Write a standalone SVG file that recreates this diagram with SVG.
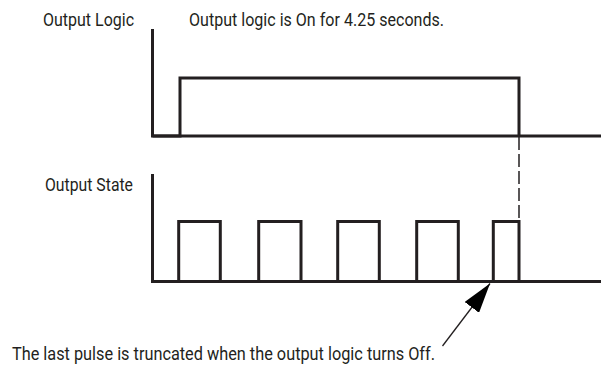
<svg xmlns="http://www.w3.org/2000/svg" width="601" height="365" viewBox="0 0 601 365">
<style>
text{font-family:Roboto,"Liberation Sans",sans-serif;font-size:19px;fill:#231f20}
.w{fill:none;stroke:#231f20;stroke-width:3;stroke-linejoin:miter}
.d{fill:none;stroke:#231f20;stroke-width:1.5;stroke-dasharray:13,4}
.a{stroke:#231f20;stroke-width:1.3}
</style>
<defs>
<marker id="ah" viewBox="0 0 30 18" refX="30" refY="9" markerWidth="30" markerHeight="18" markerUnits="userSpaceOnUse" orient="auto">
<path d="M0,0 L30,9 L0,18 Z" fill="#000"/>
</marker>
</defs>
<g id="label-output-logic"><text x="43" y="26" textLength="91" lengthAdjust="spacingAndGlyphs">Output Logic</text></g>
<g id="label-on-duration"><text x="189" y="26" textLength="255" lengthAdjust="spacingAndGlyphs">Output logic is On for 4.25 seconds.</text></g>
<g id="label-output-state"><text x="45" y="191" textLength="88" lengthAdjust="spacingAndGlyphs">Output State</text></g>
<g id="label-truncated"><text x="12" y="360" textLength="423" lengthAdjust="spacingAndGlyphs">The last pulse is truncated when the output logic turns Off.</text></g>
<g id="output-logic-chart">
<path class="w" d="M152.5,29 V136 H601"/>
<path class="w" d="M152.5,136 H180 V78 H519 V136"/>
</g>
<g id="output-state-chart">
<path class="w" d="M152.5,174 V281.5 H601"/>
<path class="w" d="M152.5,281.5 H178.7 V221.5 H220.3 V281.5 H258.7 V221.5 H301 V281.5 H337.7 V221.5 H379.3 V281.5 H416.7 V221.5 H458.3 V281.5 H493.3 V221.5 H519 V281.5"/>
</g>
<g id="connectors">
<line class="d" x1="519" y1="137" x2="519" y2="221"/>
<line class="a" x1="442.5" y1="346" x2="490" y2="283.5" marker-end="url(#ah)"/>
</g>
</svg>
